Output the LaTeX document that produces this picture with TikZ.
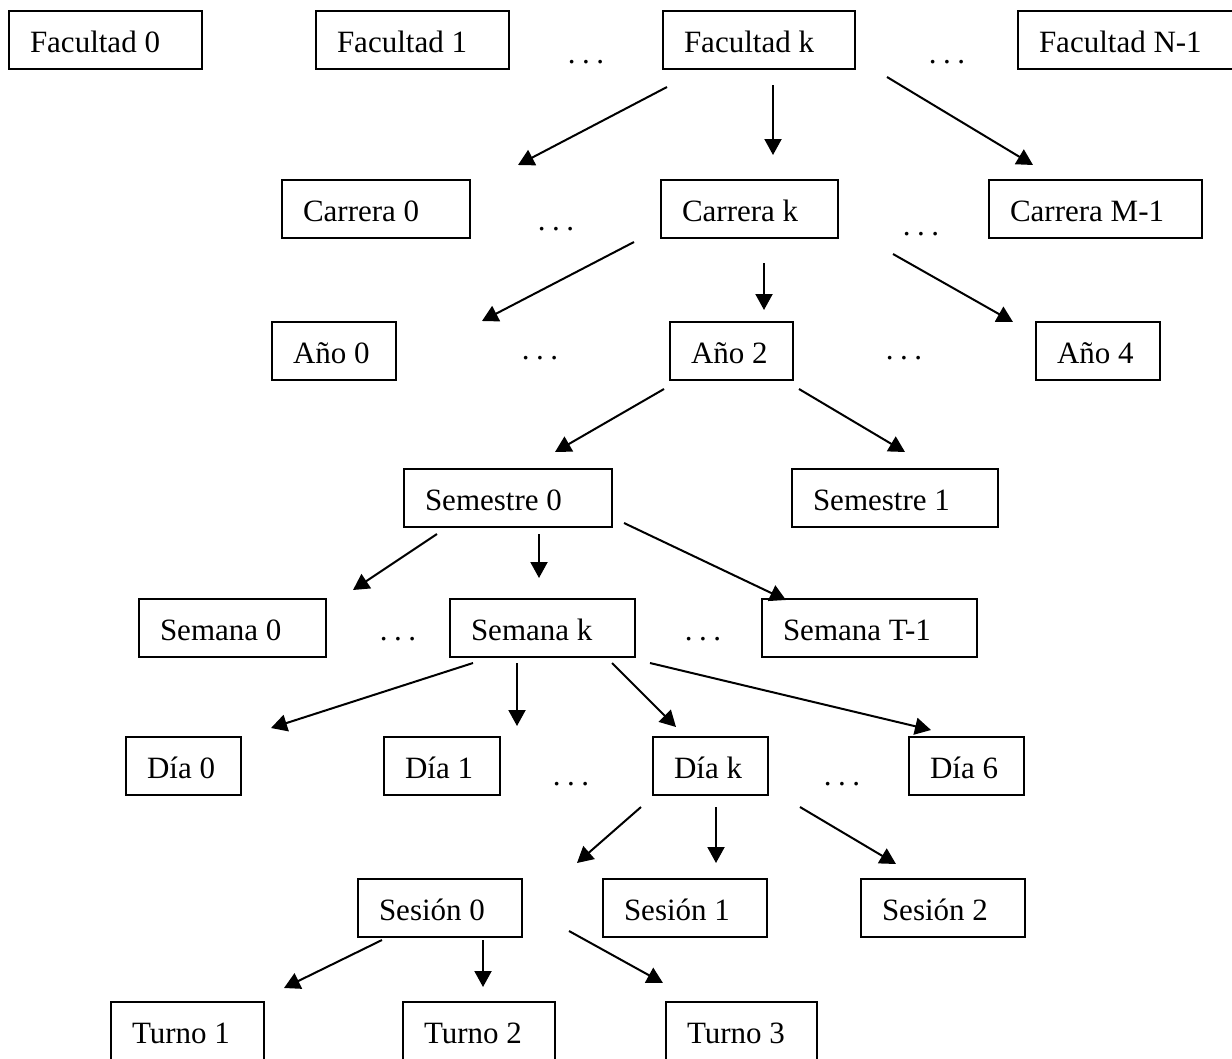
\documentclass[tikz,border=0pt]{standalone}
\usepackage{fontspec}
\setmainfont{Liberation Serif}
\usetikzlibrary{arrows.meta}
\begin{document}
\begin{tikzpicture}[x=1pt,y=-1pt,
  box/.style={draw, line width=1.8pt, anchor=north west, outer sep=0pt,
    minimum height=58pt, inner xsep=21pt, inner ysep=0pt, text width=#1,
    align=flush left, text height=24pt, text depth=0pt,
    font=\fontsize{31}{36}\selectfont},
  dotsnode/.style={anchor=base, inner sep=0pt, font=\fontsize{31}{36}\selectfont},
  arr/.style={line width=2pt, -{Triangle[length=16pt,width=17pt]}}]
\useasboundingbox (0,0) rectangle (1232,1058);
\clip (0,0) rectangle (1232,1058);
\newcommand{\tdots}{.\kern6.5pt.\kern6.5pt.}
% Row 1
\node[box=151pt] (f0) at (9,11) {Facultad 0};
\node[box=151pt] (f1) at (316,11) {Facultad 1};
\node[box=150pt] (fk) at (663,11) {Facultad k};
\node[box=190pt] (fn) at (1018,11) {Facultad N-1};
\node[dotsnode] (fd1) at (586,63) {\tdots};
\node[dotsnode] (fd2) at (947,63) {\tdots};
% Row 2
\node[box=146pt] (c0) at (282,180) {Carrera 0};
\node[box=135pt] (ck) at (661,180) {Carrera k};
\node[box=171pt] (cm) at (989,180) {Carrera M-1};
\node[dotsnode] (cd1) at (556,230) {\tdots};
\node[dotsnode] (cd2) at (921,235) {\tdots};
% Row 3
\node[box=82pt] (a0) at (272,322) {Año 0};
\node[box=81pt] (a2) at (670,322) {Año 2};
\node[box=82pt] (a4) at (1036,322) {Año 4};
\node[dotsnode] (ad1) at (540,359) {\tdots};
\node[dotsnode] (ad2) at (904,359) {\tdots};
% Row 4
\node[box=166pt] (s0) at (404,469) {Semestre 0};
\node[box=164pt] (s1) at (792,469) {Semestre 1};
% Row 5
\node[box=145pt] (w0) at (139,599) {Semana 0};
\node[box=143pt] (wk) at (450,599) {Semana k};
\node[box=173pt] (wt) at (762,599) {Semana T-1};
\node[dotsnode] (wd1) at (398,640) {\tdots};
\node[dotsnode] (wd2) at (703,640) {\tdots};
% Row 6
\node[box=73pt] (d0) at (126,737) {Día 0};
\node[box=74pt] (d1) at (384,737) {Día 1};
\node[box=73pt] (dk) at (653,737) {Día k};
\node[box=73pt] (d6) at (909,737) {Día 6};
\node[dotsnode] (dd1) at (571,785) {\tdots};
\node[dotsnode] (dd2) at (842,785) {\tdots};
% Row 7
\node[box=122pt] (e0) at (358,879) {Sesión 0};
\node[box=122pt] (e1) at (603,879) {Sesión 1};
\node[box=122pt] (e2) at (861,879) {Sesión 2};
% Row 8
\node[box=111pt] (t1) at (111,1002) {Turno 1};
\node[box=110pt] (t2) at (403,1002) {Turno 2};
\node[box=109pt] (t3) at (666,1002) {Turno 3};
% arrow end points
\coordinate (A1s) at (667,87);  \coordinate (A1e) at (518,165);
\coordinate (A2s) at (773,85);  \coordinate (A2e) at (773,155);
\coordinate (A3s) at (887,77);  \coordinate (A3e) at (1033,165);
\coordinate (B1s) at (634,242); \coordinate (B1e) at (482,321);
\coordinate (B2s) at (764,263); \coordinate (B2e) at (764,310);
\coordinate (B3s) at (893,254); \coordinate (B3e) at (1013,322);
\coordinate (C1s) at (664,389); \coordinate (C1e) at (555,452);
\coordinate (C2s) at (799,389); \coordinate (C2e) at (905,452);
\coordinate (D1s) at (437,534); \coordinate (D1e) at (353,590);
\coordinate (D2s) at (539,534); \coordinate (D2e) at (539,578);
\coordinate (D3s) at (624,523); \coordinate (D3e) at (786,600);
\coordinate (E1s) at (473,663); \coordinate (E1e) at (271,728);
\coordinate (E2s) at (517,663); \coordinate (E2e) at (517,726);
\coordinate (E3s) at (612,663); \coordinate (E3e) at (676,727);
\coordinate (E4s) at (650,663); \coordinate (E4e) at (931,730);
\coordinate (F1s) at (641,807); \coordinate (F1e) at (577,863);
\coordinate (F2s) at (716,807); \coordinate (F2e) at (716,863);
\coordinate (F3s) at (800,807); \coordinate (F3e) at (896,864);
\coordinate (G1s) at (382,940); \coordinate (G1e) at (284,988);
\coordinate (G2s) at (483,940); \coordinate (G2e) at (483,987);
\coordinate (G3s) at (569,931); \coordinate (G3e) at (663,983);
\foreach \a in {A1,A2,A3,B1,B2,B3,C1,C2,D1,D2,D3,E1,E2,E3,E4,F1,F2,F3,G1,G2,G3}
  \draw[arr] (\a s) -- (\a e);
\end{tikzpicture}
\end{document}
